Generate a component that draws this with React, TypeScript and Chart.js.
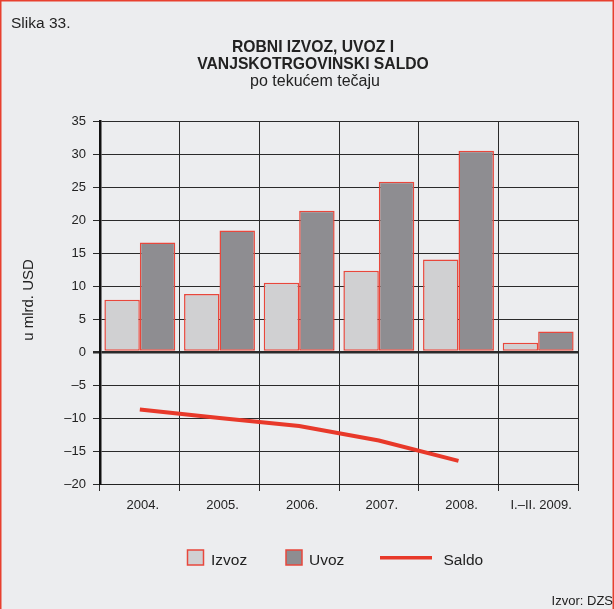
import React, { useEffect, useRef } from "react";
import { Chart, registerables } from "chart.js";

Chart.register(...registerables);

const categories = ["2004.", "2005.", "2006.", "2007.", "2008.", "I.–II. 2009."];
const izvoz = [7.9, 8.8, 10.5, 12.3, 14.0, 1.4];
const uvoz = [16.6, 18.4, 21.4, 25.8, 30.5, 3.1];
const saldo: (number | null)[] = [-8.7, -10.0, -11.2, -13.4, -16.5, null];
const seriesNames = ["Izvoz", "Uvoz", "Saldo"];
const yMin = -20;
const yMax = 35;
const yStep = 5;

const FONT = '"Liberation Sans", Arial, sans-serif';
const BG = "#ecedef";
const RED = "#e8392a";
const BAR_BORDER = "#e8473c";
const IZVOZ_FILL = "#d0d0d2";
const UVOZ_FILL = "#8e8d91";
const TEXT = "#222222";

const decorPlugin = {
  id: "decor",
  beforeDraw(chart: any) {
    const { ctx, width, height } = chart;
    ctx.save();
    ctx.fillStyle = BG;
    ctx.fillRect(0, 0, width, height);
    ctx.restore();
  },
  afterDraw(chart: any) {
    const { ctx, width, height } = chart;
    ctx.save();
    ctx.fillStyle = TEXT;
    ctx.textBaseline = "alphabetic";
    // figure label
    ctx.textAlign = "left";
    ctx.font = `15.5px ${FONT}`;
    ctx.fillText("Slika 33.", 11, 28);
    // title
    ctx.textAlign = "center";
    ctx.font = `bold 15.7px ${FONT}`;
    ctx.fillText("ROBNI IZVOZ, UVOZ I", 313, 51.5);
    ctx.fillText("VANJSKOTRGOVINSKI SALDO", 313, 69.3);
    ctx.font = `16px ${FONT}`;
    ctx.fillText("po tekućem tečaju", 315, 86);
    // y axis title
    ctx.save();
    ctx.translate(29, 300);
    ctx.rotate(-Math.PI / 2);
    ctx.textBaseline = "middle";
    ctx.font = `15px ${FONT}`;
    ctx.fillText("u mlrd. USD", 0, 0);
    ctx.restore();
    // legend
    const ds = chart.data.datasets;
    ctx.font = `15.5px ${FONT}`;
    ctx.textAlign = "left";
    const drawBox = (x: number, fill: string, border: string) => {
      ctx.fillStyle = fill;
      ctx.fillRect(x, 550, 16, 15);
      ctx.strokeStyle = border;
      ctx.lineWidth = 1.5;
      ctx.strokeRect(x, 550, 16, 15);
    };
    drawBox(187.5, ds[0].backgroundColor, ds[0].borderColor);
    ctx.fillStyle = TEXT;
    ctx.fillText(ds[0].label, 211, 565);
    drawBox(286, ds[1].backgroundColor, ds[1].borderColor);
    ctx.fillStyle = TEXT;
    ctx.fillText(ds[1].label, 309, 565);
    ctx.strokeStyle = ds[2].borderColor;
    ctx.lineWidth = 3.5;
    ctx.beginPath();
    ctx.moveTo(380, 557.7);
    ctx.lineTo(432, 557.7);
    ctx.stroke();
    ctx.fillStyle = TEXT;
    ctx.fillText(ds[2].label, 443.5, 565);
    // outer border
    ctx.strokeStyle = "#e8402f";
    ctx.lineWidth = 1.5;
    ctx.strokeRect(0.75, 0.75, width - 1.5, height + 5);
    // source
    ctx.fillStyle = TEXT;
    ctx.textAlign = "right";
    ctx.font = `13px ${FONT}`;
    ctx.fillText("Izvor: DZS", 613, 605);
    ctx.restore();
  },
};

export default function App() {
  const ref = useRef<HTMLCanvasElement>(null);
  useEffect(() => {
    if (!ref.current) return;
    const chart = new Chart(ref.current, {
      type: "bar",
      data: {
        labels: categories,
        datasets: [
          {
            type: "bar",
            label: seriesNames[0],
            data: izvoz,
            backgroundColor: IZVOZ_FILL,
            borderColor: BAR_BORDER,
            borderWidth: 1.5,
            borderSkipped: false,
            categoryPercentage: 0.89,
            barPercentage: 1,
            order: 2,
          },
          {
            type: "bar",
            label: seriesNames[1],
            data: uvoz,
            backgroundColor: UVOZ_FILL,
            borderColor: BAR_BORDER,
            borderWidth: 1.5,
            borderSkipped: false,
            categoryPercentage: 0.89,
            barPercentage: 1,
            order: 2,
          },
          {
            type: "line",
            label: seriesNames[2],
            data: saldo,
            borderColor: RED,
            backgroundColor: RED,
            borderWidth: 4,
            pointRadius: 0,
            tension: 0,
            fill: false,
            order: 1,
          } as any,
        ],
      },
      options: {
        responsive: false,
        devicePixelRatio: 1,
        animation: false,
        layout: { padding: { left: 60, top: 121, right: 36, bottom: 95 } },
        plugins: {
          legend: { display: false },
          title: { display: false },
          tooltip: { enabled: false },
        },
        scales: {
          x: {
            offset: true,
            grid: {
              offset: true,
              color: "#2a2a2a",
              lineWidth: 1,
              drawTicks: true,
              tickLength: 7,
            },
            border: { display: true, color: "#222", width: 1 },
            ticks: {
              color: TEXT,
              font: { family: FONT, size: 13 },
              padding: 6.5,
              labelOffset: 3,
              maxRotation: 0,
              autoSkip: false,
            },
            afterFit: (s: any) => {
              s.height = 30;
            },
          },
          y: {
            min: yMin,
            max: yMax,
            ticks: {
              stepSize: yStep,
              color: TEXT,
              font: { family: FONT, size: 13 },
              padding: 7,
              callback: (v: any) => (Number(v) < 0 ? "–" + Math.abs(Number(v)) : String(v)),
            },
            grid: {
              color: "#2a2a2a",
              lineWidth: (c: any) => (c.tick && c.tick.value === 0 ? 2.5 : 1),
              tickLength: 7,
            },
            border: { display: true, color: "#111", width: 2.5 },
            afterFit: (s: any) => {
              s.width = 40;
            },
          },
        },
      } as any,
      plugins: [decorPlugin],
    });
    return () => chart.destroy();
  }, []);
  return (
    <div style={{ position: "absolute", left: 0, top: 0, width: 614, height: 609 }}>
      <canvas ref={ref} width={614} height={609} style={{ display: "block" }} />
    </div>
  );
}
